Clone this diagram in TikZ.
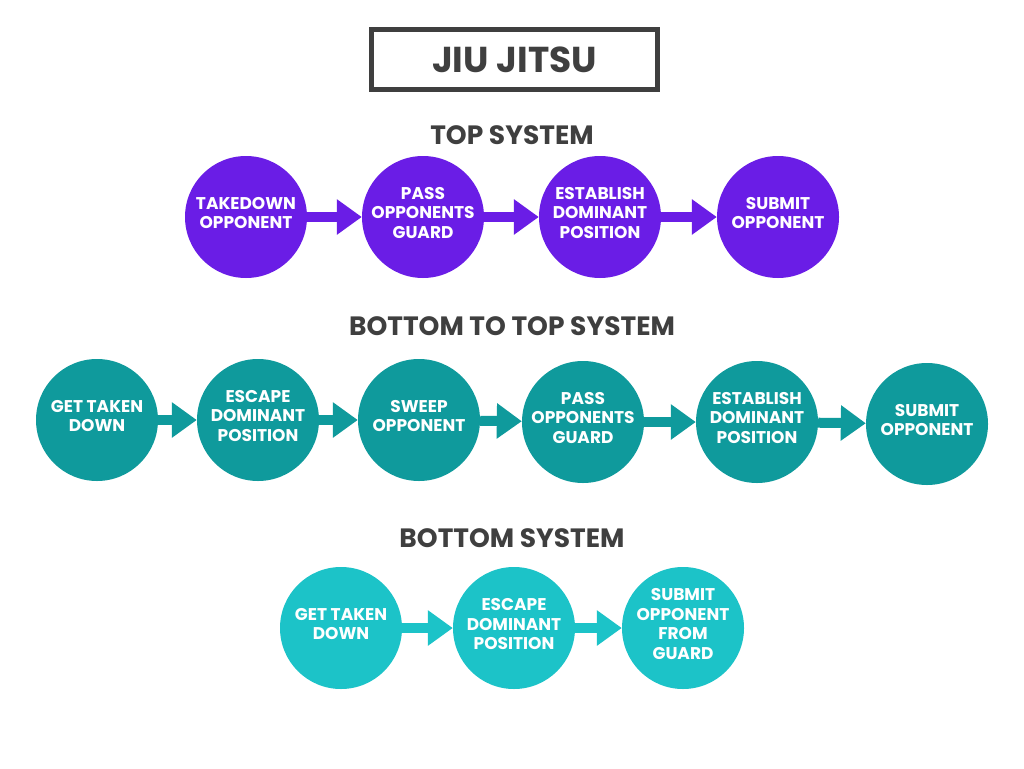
\documentclass[tikz,border=0pt]{standalone}
\usepackage{fontspec}
\setmainfont{Poppins}
\usetikzlibrary{arrows.meta}
\definecolor{purp}{HTML}{6A1DE6}
\definecolor{tealA}{HTML}{0F9A9C}
\definecolor{cyanA}{HTML}{1CC3C8}
\definecolor{darkg}{HTML}{3F3F3F}
\begin{document}
\begin{tikzpicture}[x=1pt,y=-1pt,
 bub/.style={circle, minimum size=122pt, inner sep=0pt},
 lbl/.style={text=white, font=\bfseries\fontsize{17}{19.5}\selectfont, align=center, yshift=4pt, inner sep=0pt},
 pbub/.style={bub, fill=purp, label={[lbl]center:{#1}}},
 tbub/.style={bub, fill=tealA, label={[lbl]center:{#1}}},
 cbub/.style={bub, fill=cyanA, label={[lbl]center:{#1}}},
 conn/.style={line width=10pt, -{Triangle[length=25pt,width=34pt]}},
 head/.style={text=darkg, font=\bfseries\fontsize{26.5}{30}\selectfont, inner sep=0pt}]
\useasboundingbox[fill=white] (0,0) rectangle (1024,768);

% title
\node[draw=darkg, line width=5pt, minimum width=286pt, minimum height=60pt,
  text=darkg, font=\bfseries\fontsize{36}{40}\selectfont] (title) at (514.5,59.5) {JIU JITSU};

% top system
\node[head] (h1) at (512,135) {TOP SYSTEM};
\node[pbub={TAKEDOWN\\OPPONENT}] (t1) at (246,217) {};
\node[pbub={PASS\\OPPONENTS\\GUARD}] (t2) at (423,217) {};
\node[pbub={ESTABLISH\\DOMINANT\\POSITION}] (t3) at (600,217) {};
\node[pbub={SUBMIT\\OPPONENT}] (t4) at (778,217) {};
\draw[conn, purp] (t1) -- (t2);
\draw[conn, purp] (t2) -- (t3);
\draw[conn, purp] (t3) -- (t4);

% bottom to top system
\node[head] (h2) at (512,326) {BOTTOM TO TOP SYSTEM};
\node[tbub={GET TAKEN\\DOWN}] (m1) at (97,420) {};
\node[tbub={ESCAPE\\DOMINANT\\POSITION}] (m2) at (258,420) {};
\node[tbub={SWEEP\\OPPONENT}] (m3) at (419,420) {};
\node[tbub={PASS\\OPPONENTS\\GUARD}] (m4) at (583,422) {};
\node[tbub={ESTABLISH\\DOMINANT\\POSITION}] (m5) at (757,422) {};
\node[tbub={SUBMIT\\OPPONENT}] (m6) at (927,424) {};
\draw[conn, tealA] (m1) -- (m2);
\draw[conn, tealA] (m2) -- (m3);
\draw[conn, tealA] (m3) -- (m4);
\draw[conn, tealA] (m4) -- (m5);
\draw[conn, tealA] (m5) -- (m6);

% bottom system
\node[head] (h3) at (512,538) {BOTTOM SYSTEM};
\node[cbub={GET TAKEN\\DOWN}] (b1) at (341,628) {};
\node[cbub={ESCAPE\\DOMINANT\\POSITION}] (b2) at (514,628) {};
\node[cbub={SUBMIT\\OPPONENT\\FROM\\GUARD}] (b3) at (683,628) {};
\draw[conn, cyanA] (b1) -- (b2);
\draw[conn, cyanA] (b2) -- (b3);
\end{tikzpicture}
\end{document}
